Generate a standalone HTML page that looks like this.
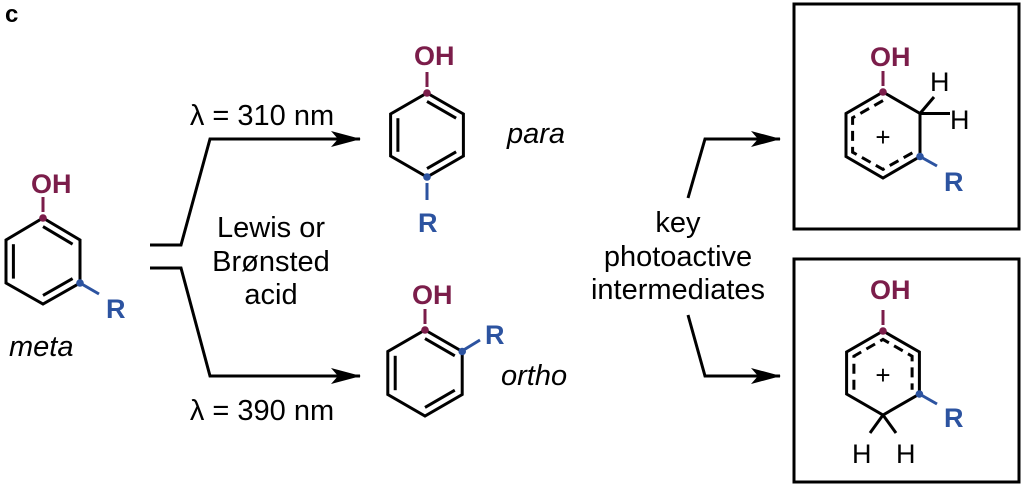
<!DOCTYPE html>
<html><head><meta charset="utf-8"><style>
html,body{margin:0;padding:0;background:#fff;}
svg{display:block;}
text{font-family:"Liberation Sans",Arial,sans-serif;}
</style></head><body>
<svg width="1023" height="484" viewBox="0 0 1023 484" xmlns="http://www.w3.org/2000/svg">
<defs>
<marker id="ah" markerWidth="30" markerHeight="16" refX="29" refY="8" orient="auto" markerUnits="userSpaceOnUse">
<path d="M0,0 L30,8 L0,16 L7,8 Z" fill="#000"/>
</marker>
</defs>
<text x="5" y="22" font-size="24" font-weight="bold">c</text>

<g stroke="#000" stroke-width="3" fill="none" stroke-linejoin="miter" stroke-linecap="butt">
<polygon points="43,218 80,240 80,283 43,304 6,283 6,240"/>
<line x1="43" y1="226.6" x2="72.6" y2="244.2"/>
<line x1="13.4" y1="244.2" x2="13.4" y2="278.6"/>
<line x1="72.6" y1="278.6" x2="43" y2="295.4"/>
<polygon points="427,93 463.4,114 463.4,156 427,177 390.6,156 390.6,114"/>
<line x1="427" y1="101.4" x2="456.1" y2="118.2"/>
<line x1="397.9" y1="118.2" x2="397.9" y2="151.8"/>
<line x1="456.1" y1="151.8" x2="427" y2="168.6"/>
<polygon points="425,330 462.2,351.5 462.2,394.5 425,416 387.8,394.5 387.8,351.5"/>
<line x1="425" y1="338.6" x2="454.8" y2="355.8"/>
<line x1="395.2" y1="355.8" x2="395.2" y2="390.2"/>
<line x1="454.8" y1="390.2" x2="425" y2="407.4"/>
<polygon points="883,92 920,113.5 920,156.5 883,178 846,156.5 846,113.5"/>
<polyline points="883,100.6 852.6,117.8 852.6,152.2 883,169.4 913.4,152.2" stroke-dasharray="10,6"/>
<line x1="920" y1="113.5" x2="934" y2="97"/>
<line x1="920" y1="113.5" x2="950" y2="113.5"/>
<polygon points="883,331 919.4,352 919.4,394 883,415 846.6,394 846.6,352"/>
<polyline points="853.9,389.8 853.9,356.2 883,339.4 912.1,356.2 912.1,389.8" stroke-dasharray="10,6"/>
<line x1="883" y1="415" x2="870" y2="433"/>
<line x1="883" y1="415" x2="896" y2="433"/>
<rect x="794" y="4" width="225" height="225" stroke-width="3"/>
<rect x="794" y="259" width="225" height="223" stroke-width="3"/>
<polyline points="150,245 181,245 210,139 360,139" marker-end="url(#ah)"/>
<polyline points="150,268 181,268 210,376 360,376" marker-end="url(#ah)"/>
<polyline points="688,198 705,139 780,139" marker-end="url(#ah)"/>
<polyline points="688,315 705,376 780,376" marker-end="url(#ah)"/>
</g>

<g stroke="#7b1d4a" stroke-width="3">
<line x1="43" y1="212" x2="43" y2="197"/>
<line x1="427" y1="87" x2="427" y2="72"/>
<line x1="425" y1="324" x2="425" y2="309"/>
<line x1="883" y1="86" x2="883" y2="71"/>
<line x1="883" y1="325" x2="883" y2="310"/>
</g>
<g fill="#7b1d4a">
<circle cx="43" cy="218" r="3.8"/><circle cx="427" cy="93" r="3.8"/><circle cx="425" cy="330" r="3.8"/>
<circle cx="883" cy="92" r="3.8"/><circle cx="883" cy="331" r="3.8"/>
</g>
<g fill="#7b1d4a" font-size="27" font-weight="bold">
<text x="31" y="193">OH</text>
<text x="414" y="65">OH</text>
<text x="412" y="304">OH</text>
<text x="870" y="66">OH</text>
<text x="870" y="299">OH</text>
</g>
<g stroke="#2c53a0" stroke-width="3">
<line x1="80" y1="283" x2="99" y2="294"/>
<line x1="427" y1="183" x2="427" y2="200"/>
<line x1="462" y1="351" x2="480" y2="340"/>
<line x1="920" y1="156.5" x2="937" y2="166"/>
<line x1="919.4" y1="394" x2="937" y2="404"/>
</g>
<g fill="#2c53a0">
<circle cx="80" cy="283" r="3.8"/><circle cx="427" cy="177" r="3.8"/><circle cx="462.2" cy="351.5" r="3.8"/>
<circle cx="920" cy="156.5" r="3.8"/><circle cx="919.4" cy="394" r="3.8"/>
</g>
<g fill="#2c53a0" font-size="27" font-weight="bold">
<text x="106" y="318">R</text>
<text x="418" y="232">R</text>
<text x="485" y="344">R</text>
<text x="944" y="191">R</text>
<text x="944" y="427">R</text>
</g>

<g font-size="29" fill="#000">
<text x="930" y="91" font-size="27">H</text>
<text x="950" y="129" font-size="27">H</text>
<text x="852" y="463" font-size="27">H</text>
<text x="896" y="463" font-size="27">H</text>
<text x="883" y="146" font-size="26" text-anchor="middle">+</text>
<text x="883" y="384" font-size="26" text-anchor="middle">+</text>
<text x="9" y="356" font-style="italic">meta</text>
<text x="507" y="143" font-style="italic">para</text>
<text x="501" y="385" font-style="italic">ortho</text>
<text x="262" y="125" text-anchor="middle">λ = 310 nm</text>
<text x="262" y="420" text-anchor="middle">λ = 390 nm</text>
<text x="271" y="237" text-anchor="middle">Lewis or</text>
<text x="271" y="271" text-anchor="middle">Brønsted</text>
<text x="271" y="304" text-anchor="middle">acid</text>
<text x="678" y="232" text-anchor="middle">key</text>
<text x="678" y="266" text-anchor="middle">photoactive</text>
<text x="678" y="299" text-anchor="middle">intermediates</text>
</g>
</svg>
</body></html>
